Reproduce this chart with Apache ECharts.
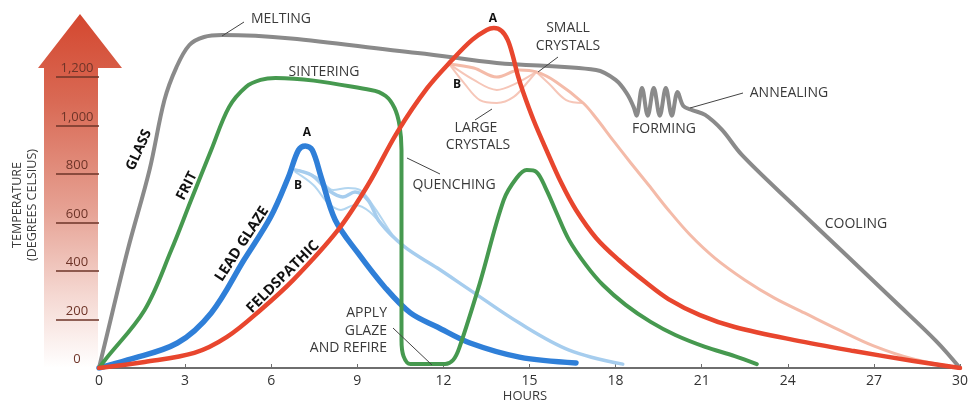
<!DOCTYPE html>
<html><head><meta charset="utf-8">
<script src="https://cdn.jsdelivr.net/npm/echarts@6/dist/echarts.min.js"></script>
<style>html,body{margin:0;padding:0;background:#fff}#c{width:971px;height:403px}</style>
</head><body><div id="c"></div>
<script>
// ---- data (hours, degrees Celsius) ----
const yTickValues = [200, 400, 600, 800, 1000, 1200];
const yLabelValues = [0, 200, 400, 600, 800, 1000, 1200];
const glass = [[0,0],[0.21,103],[1.0,486],[1.76,816],[2.28,1104],[2.70,1240],[3.15,1331],[3.66,1364],[4.29,1372],[11.1,1298],[13.86,1257],[17.32,1228],[18.0,1187],[18.4,1130],[18.63,1075],[18.73,1040],[18.92,1154],[19.12,1040],[19.33,1154],[19.54,1040],[19.75,1154],[19.96,1040],[20.16,1137],[20.36,1080],[20.67,1063],[21.12,1043],[21.71,981],[22.40,878],[24.23,668],[25.96,474],[27.68,280],[29.17,111],[30,0]];
const frit = [[0,0],[0.21,33],[1.59,239],[2.52,486],[3.21,692],[3.91,898],[4.53,1075],[5.12,1158],[5.63,1187],[6.15,1195],[9.47,1146],[9.99,1121],[10.30,1071],[10.47,1001],[10.54,898],[10.54,115],[10.61,49],[10.85,16],[12.06,16],[12.34,33],[12.55,82],[13.27,350],[14.10,692],[14.55,783],[14.90,816],[15.24,808],[15.59,734],[15.93,643],[16.38,527],[16.97,424],[17.56,342],[18.35,260],[19.22,190],[20.08,136],[21.12,87],[22.15,49],[22.92,16]];
const leadGlaze = [[0,0],[1.0,33],[2.73,103],[3.91,227],[5.05,445],[5.98,622],[6.60,787],[6.95,898],[7.19,915],[7.43,898],[7.74,787],[8.23,610],[9.02,474],[9.95,334],[10.85,227],[11.79,169],[12.93,103],[14.65,45],[16.62,21]];
const leadGlazeB1 = [[6.84,816],[7.40,795],[7.98,734],[8.50,705],[8.92,725],[9.37,692],[9.78,602],[10.65,499],[11.79,412],[12.93,321],[14.65,185],[16.38,74],[18.25,16]];
const leadGlazeB2 = [[6.84,808],[7.47,754],[7.98,680],[8.43,651],[8.92,672],[9.44,643],[10.06,560],[10.65,499]];
const leadGlazeB3 = [[6.95,816],[7.64,783],[8.16,734],[8.68,742],[9.09,734],[9.61,659],[10.23,548],[10.65,499]];
const feldspathic = [[0,0],[1.59,25],[3.32,62],[4.46,128],[5.63,239],[6.77,363],[8.33,569],[9.37,754],[10.40,973],[11.44,1154],[12.30,1269],[13.0,1352],[13.51,1393],[13.76,1401],[14.03,1389],[14.24,1352],[14.41,1290],[14.59,1207],[14.79,1133],[15.14,1022],[15.59,898],[16.11,762],[16.62,651],[17.32,536],[18.11,445],[19.04,354],[19.84,284],[20.94,218],[22.15,169],[24.23,115],[26.30,70],[28.38,29],[30,0]];
const feldB1 = [[12.2,1253],[13.06,1236],[13.86,1199],[14.65,1228],[15.24,1220],[15.93,1179],[16.87,1092],[17.32,1030],[17.90,940],[18.53,845],[19.15,754],[19.84,651],[20.60,548],[21.46,453],[22.50,363],[23.54,288],[24.58,227],[25.78,157],[26.99,91],[28.37,37],[30,0]];
const feldB2 = [[12.2,1253],[12.72,1174],[13.27,1104],[13.86,1092],[14.45,1117],[15.0,1187],[15.24,1220]];
const feldB3 = [[12.2,1253],[13.06,1187],[13.86,1146],[14.55,1174],[15.24,1220]];
const feldB4 = [[15.24,1220],[15.69,1170],[16.28,1104],[16.87,1092]];

function line(data, color, width, z) {
  return { type: 'line', data: data, smooth: 0.35, symbol: 'none', showSymbol: false, silent: true, z: z,
    lineStyle: { color: color, width: width, cap: 'round', join: 'round' } };
}
const F = '"Open Sans", sans-serif';
function txt(x, y, s, opt) {
  opt = opt || {};
  return { type: 'text', x: x, y: y, rotation: opt.rot || 0, z: 50, silent: true,
    style: { text: s, fill: opt.fill || '#3a3a3a', font: (opt.bold ? 'bold ' : '') + (opt.size || 14) + 'px ' + F,
      textAlign: opt.align || 'center', textVerticalAlign: 'middle', align: opt.align || 'center', verticalAlign: 'middle' } };
}
function lead(x1, y1, x2, y2) {
  return { type: 'line', z: 50, silent: true, shape: { x1: x1, y1: y1, x2: x2, y2: y2 }, style: { stroke: '#444', lineWidth: 1 } };
}
const deg = Math.PI / 180;
const chart = echarts.init(document.getElementById('c'), null, { renderer: 'canvas' });
chart.setOption({
  animation: false,
  backgroundColor: '#fff',
  grid: { left: 99, right: 4, top: 4, bottom: 35, containLabel: false },
  xAxis: { type: 'value', min: 0, max: 30, interval: 3,
    axisLine: { lineStyle: { color: '#6e6e6e', width: 2 } },
    axisTick: { inside: true, length: 4, lineStyle: { color: '#6e6e6e', width: 1 } },
    axisLabel: { color: '#333', fontSize: 14, fontFamily: F, margin: 6, showMaxLabel: true },
    splitLine: { show: false } },
  yAxis: { type: 'value', min: 0, max: 1500, z: 10,
    axisLine: { show: false },
    axisTick: { show: true, customValues: yTickValues, length: 43, lineStyle: { color: '#6e3428', width: 1.5 } },
    axisLabel: { customValues: yLabelValues, color: '#6e3428', fontSize: 13, fontFamily: F, align: 'center', margin: 22,
      verticalAlign: 'bottom', padding: [0, 0, 2, 0],
      formatter: function (v) { return v >= 1000 ? Math.floor(v / 1000) + ',' + String(v % 1000).padStart(3, '0') : String(v); } },
    splitLine: { show: false } },
  graphic: [
    { type: 'polygon', z: 1, silent: true,
      shape: { points: [[38,68],[80,14],[122,68],[98,68],[98,368],[44,368],[44,68]] },
      style: { fill: { type: 'linear', x: 0, y: 0, x2: 0, y2: 1, global: false,
        colorStops: [ { offset: 0, color: '#d4472f' }, { offset: 0.25, color: '#d96a55' }, { offset: 0.55, color: '#e6a193' },
          { offset: 0.8, color: '#f5d9d3' }, { offset: 1, color: '#ffffff' } ] } } },
    txt(17, 205, 'TEMPERATURE', { rot: 90 * deg, size: 12.5 }),
    txt(32, 205, '(DEGREES CELSIUS)', { rot: 90 * deg, size: 12.5 }),
    txt(525, 396, 'HOURS', { size: 13 }),
    txt(281, 19, 'MELTING'), lead(222, 36, 244, 22),
    txt(324, 72, 'SINTERING'),
    txt(568, 28, 'SMALL'), txt(568, 46, 'CRYSTALS'), lead(538, 72, 558, 57),
    txt(476, 128, 'LARGE'), txt(478, 145, 'CRYSTALS'), lead(475, 120, 492, 109),
    txt(664, 129, 'FORMING'),
    txt(789, 93, 'ANNEALING'), lead(690, 108, 743, 93),
    txt(454, 185, 'QUENCHING'), lead(407, 158, 440, 174),
    txt(387, 313, 'APPLY', { align: 'right' }), txt(387, 331, 'GLAZE', { align: 'right' }), txt(387, 348, 'AND REFIRE', { align: 'right' }),
    lead(393, 328, 432, 365),
    txt(856, 224, 'COOLING'),
    txt(139, 150, 'GLASS', { bold: true, fill: '#111', rot: 66 * deg, size: 14 }),
    txt(187, 186, 'FRIT', { bold: true, fill: '#111', rot: 63 * deg, size: 14 }),
    txt(242, 244, 'LEAD GLAZE', { bold: true, fill: '#111', rot: 57 * deg, size: 14.5 }),
    txt(283, 277, 'FELDSPATHIC', { bold: true, fill: '#111', rot: 45 * deg, size: 14.5 }),
    txt(307, 133, 'A', { bold: true, fill: '#111', size: 12 }),
    txt(298, 186, 'B', { bold: true, fill: '#111', size: 12 }),
    txt(493, 19, 'A', { bold: true, fill: '#111', size: 12 }),
    txt(457, 85, 'B', { bold: true, fill: '#111', size: 12 })
  ],
  series: [
    line(glass, '#8a8a8a', 4, 2),
    line(feldB2, '#f6c6b8', 2, 3),
    line(feldB3, '#f6c6b8', 2, 3),
    line(feldB4, '#f6c6b8', 2, 3),
    line(feldB1, '#f4bba9', 3, 3),
    line(leadGlazeB2, '#b3d6f0', 2, 3),
    line(leadGlazeB3, '#b3d6f0', 2, 3),
    line(leadGlazeB1, '#a6cdee', 3.5, 3),
    line(leadGlaze, '#2f7fd8', 5.5, 4),
    line(frit, '#46994f', 4, 5),
    line(feldspathic, '#e8462e', 4.5, 6)
  ]
});
</script></body></html>
